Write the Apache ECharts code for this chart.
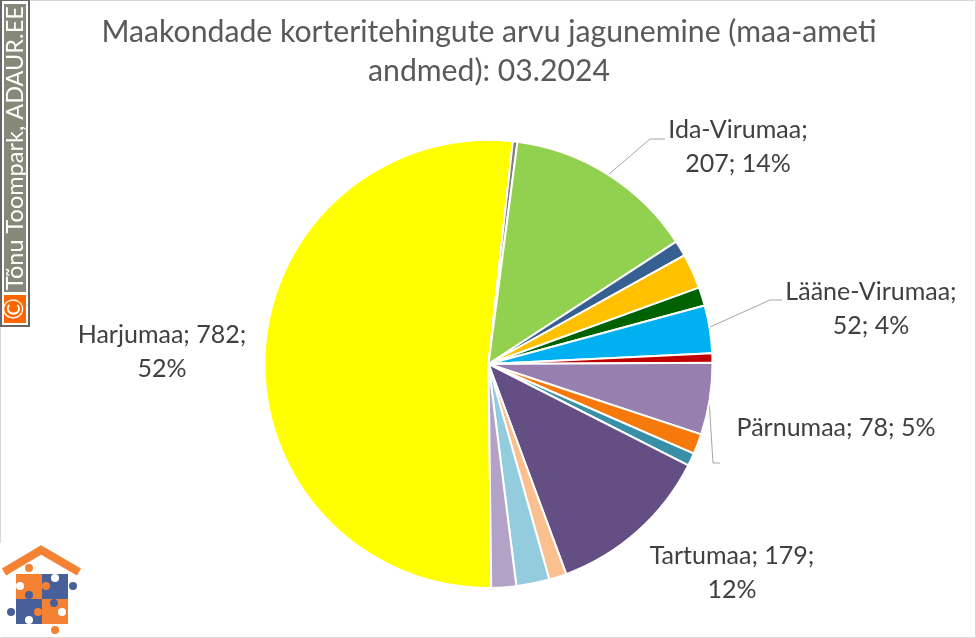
<!DOCTYPE html>
<html><head><meta charset="utf-8">
<style>html,body{margin:0;padding:0;background:#fff}#c{width:976px;height:638px}</style>
<script src="https://cdn.jsdelivr.net/npm/echarts@6/dist/echarts.min.js"></script>
</head><body><div id="c"></div>
<script>
const titleLines = ['Maakondade korteritehingute arvu jagunemine (maa-ameti', 'andmed): 03.2024'];
const names = ['Harjumaa','Hiiumaa','Ida-Virumaa','Jõgevamaa','Järvamaa','Läänemaa','Lääne-Virumaa','Põlvamaa','Pärnumaa','Raplamaa','Saaremaa','Tartumaa','Valgamaa','Viljandimaa','Võrumaa'];
const values = [782,5,207,17,38,20,52,10,78,22,14,179,19,36,27];
const colors = ['#FFFF00','#7F7F7F','#92D050','#376092','#FFC000','#006100','#00B0F0','#C00000','#977FB0','#F67A0B','#378FA8','#644F84','#FAC090','#93CDDD','#B3A2C7'];
const labelTexts = {
  'Harjumaa':'Harjumaa; 782;\n52%',
  'Ida-Virumaa':'Ida-Virumaa;\n207; 14%',
  'Lääne-Virumaa':'Lääne-Virumaa;\n52; 4%',
  'Pärnumaa':'Pärnumaa; 78; 5%',
  'Tartumaa':'Tartumaa; 179;\n12%'
};
const labelSpots = {
  'Harjumaa':[162,352],
  'Ida-Virumaa':[738,147],
  'Lääne-Virumaa':[871,309],
  'Pärnumaa':[836,428],
  'Tartumaa':[732,573]
};
const leaderPaths = {
  'Ida-Virumaa':[[608,175],[650,139],[665,139]],
  'Lääne-Virumaa':[[710,327],[770,300],[782,300]],
  'Pärnumaa':[[709,399],[713,463],[720,463]]
};
const FONT = 'Lato, "Open Sans", sans-serif';
const chart = echarts.init(document.getElementById('c'), null, {renderer:'canvas'});
const ORG='#F58232', BLU='#47609A';
const piece = (x,y,w,h,f)=>({type:'rect',z:5,shape:{x,y,width:w,height:h},style:{fill:f},silent:true});
const dot = (cx,cy,f)=>({type:'circle',z:6,shape:{cx,cy,r:4},style:{fill:f},silent:true});
chart.setOption({
  animation:false,
  backgroundColor:'#fff',
  title:{text:titleLines.join('\n'),left:484,top:8,textAlign:'center',
    textStyle:{fontFamily:FONT,fontSize:30.2,fontWeight:'normal',color:'#595959',lineHeight:39}},
  graphic:[
    {type:'rect',z:0,shape:{x:0.5,y:0.5,width:975,height:637},style:{fill:'none',stroke:'#d9d9d9',lineWidth:1},silent:true},
    {type:'rect',z:1,shape:{x:0,y:543,width:82,height:94},style:{fill:'#fff'},silent:true},
    {type:'rect',z:10,shape:{x:1,y:0,width:28,height:326},style:{fill:'#fff',stroke:'#666',lineWidth:2},silent:true},
    {type:'rect',z:11,shape:{x:4,y:4,width:22,height:288},style:{fill:'#88887A'},silent:true},
    {type:'rect',z:11,shape:{x:4,y:295,width:22,height:28},style:{fill:'#FF6600'},silent:true},
    {type:'text',z:12,x:15,y:290,rotation:Math.PI/2,silent:true,
      style:{text:'Tõnu Toompark, ADAUR.EE',fill:'#fff',font:'23.5px '+FONT,align:'left',verticalAlign:'middle'}},
    {type:'text',z:12,x:15,y:309,rotation:Math.PI/2,silent:true,
      style:{text:'©',fill:'#fff',font:'26px '+FONT,align:'center',verticalAlign:'middle'}},
    {type:'polyline',z:5,shape:{points:[[4,572],[41,550],[79,572]]},style:{stroke:ORG,lineWidth:8,fill:'none'},silent:true},
    piece(16,574,26,25,ORG),
    piece(42,574,26,25,BLU),
    piece(16,599,26,25,BLU),
    piece(42,599,26,25,ORG),
    dot(29,568,ORG),dot(55,578,'#fff'),dot(73,586,BLU),dot(20,586,'#fff'),
    dot(46,586,ORG),dot(29,595,BLU),dot(54,603,BLU),dot(11,612,BLU),
    dot(38,612,ORG),dot(62,612,'#fff'),dot(29,620,'#fff'),dot(55,630,ORG)
  ],
  series:[{
    type:'pie',
    center:[488.5,364],
    radius:[0,224],
    startAngle:-89.3,
    clockwise:true,
    percentPrecision:0,
    avoidLabelOverlap:false,
    itemStyle:{borderColor:'#fff',borderWidth:2},
    label:{show:false},
    labelLine:{show:false},
    data:names.map((n,i)=>{
      const has = labelTexts[n];
      return {
        name:n,value:values[i],
        itemStyle:{color:colors[i]},
        label:{show:!!has,position:'outside',formatter:()=>labelTexts[n]||'',
          fontFamily:FONT,fontSize:25,lineHeight:34,color:'#404040',align:'center',verticalAlign:'middle'},
        labelLine:{show:!!leaderPaths[n],length:12,length2:14,lineStyle:{color:'#A6A6A6',width:1}}
      };
    }),
    labelLayout:function(p){
      const n = names[p.dataIndex];
      const s = labelSpots[n];
      if(!s) return {};
      const o = {x:s[0],y:s[1],align:'center',verticalAlign:'middle'};
      if(leaderPaths[n]) o.labelLinePoints = leaderPaths[n];
      return o;
    }
  }]
});
</script></body></html>
